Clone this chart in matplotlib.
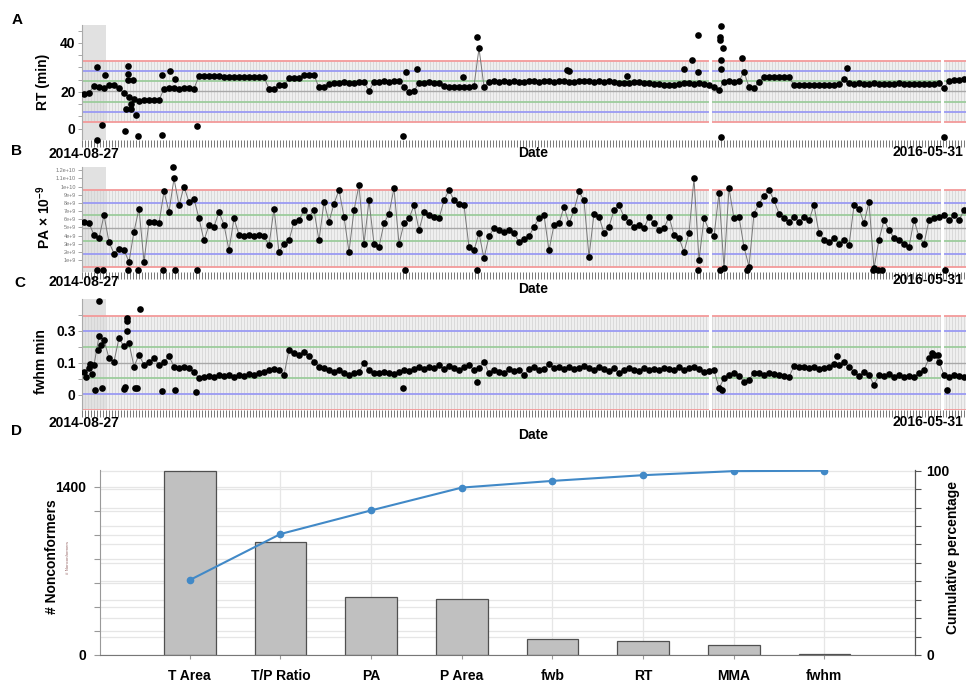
import numpy as np
import matplotlib
matplotlib.use("Agg")
import matplotlib.pyplot as plt
from matplotlib.transforms import blended_transform_factory

plt.rcParams['font.family'] = ['Liberation Sans', 'DejaVu Sans']
plt.rcParams['mathtext.fontset'] = 'custom'
plt.rcParams['mathtext.rm'] = 'Liberation Sans:bold'
plt.rcParams['mathtext.bf'] = 'Liberation Sans:bold'
plt.rcParams['mathtext.default'] = 'bf'

W, H = 966, 690

# ---------------- data ----------------
rt_values = [
    19.3, 19.6, 22.6, 22.0, 21.8, 23.0, 22.7, 21.6, 19.5, 17.8,
    17.2, 16.5, 16.8, 16.6, 16.7, 16.6, 21.3, 21.5, 21.7, 21.4,
    21.6, 21.5, 21.4, 26.5, 26.6, 26.5, 26.4, 26.5, 26.2, 26.0,
    26.1, 26.0, 26.0, 26.1, 26.0, 26.0, 26.1, 21.2, 21.0, 22.9,
    22.7, 25.5, 25.6, 25.7, 26.9, 27.0, 26.8, 21.9, 22.0, 23.4,
    23.6, 23.8, 23.9, 23.7, 23.8, 24.0, 23.9, 20.5, 24.0, 24.2,
    24.3, 24.1, 24.4, 24.6, 22.0, 20.1, 20.3, 23.8, 23.7, 23.9,
    23.8, 23.6, 22.3, 22.1, 22.2, 22.0, 22.2, 22.1, 22.4, 37.8,
    22.2, 24.1, 24.3, 24.2, 24.4, 24.2, 24.3, 24.1, 24.2, 24.5,
    24.3, 24.2, 24.4, 24.3, 24.2, 24.6, 24.3, 24.1, 24.2, 24.4,
    24.6, 24.3, 24.2, 24.5, 24.1, 24.3, 24.2, 23.8, 23.6, 23.5,
    24.2, 24.0, 23.8, 23.5, 23.3, 23.1, 23.0, 22.9, 23.0, 23.2,
    23.5, 23.8, 23.4, 23.6, 23.2, 23.0, 22.2, 20.8, 24.2, 24.3,
    24.0, 24.4, 28.3, 21.9, 21.6, 24.2, 26.0, 26.1, 26.2, 26.0,
    26.1, 25.9, 22.9, 22.8, 23.0, 22.9, 22.7, 22.8, 22.9, 22.7,
    22.8, 23.1, 25.2, 23.6, 23.4, 23.5, 23.3, 23.4, 23.6, 23.3,
    23.4, 23.2, 23.3, 23.5, 23.3, 23.2, 23.4, 23.3, 23.1, 23.2,
    23.4, 23.6, 21.5, 24.6, 24.8, 24.9, 25.1,
]
rt_out_pos = [2.6, 2.6, 3.6, 4.2, 8.8, 8.8, 8.8, 9.8, 8.4, 9.4, 9.4, 10.4, 8.2, 10.8,
              15.6, 15.6, 17.2, 18.2, 22.6, 63.8, 64.4, 66.6, 75.8, 78.6, 96.6, 97.0,
              108.6, 120.0, 121.6, 122.8, 122.8, 127.2, 127.2, 127.4, 127.4, 127.4,
              127.4, 127.8, 131.6, 152.6, 172.0]
rt_out_vals = [0.4, 30.2, 6.5, 26.9, 30.6, 27.3, 24.9, 24.9, 13.1, 13.1, 15.1, 10.6, 4.1, 2.0,
               2.4, 26.9, 28.6, 25.3, 6.1, 2.2, 28.3, 29.3, 26.0, 42.6, 29.0, 28.4,
               26.7, 29.3, 33.0, 43.3, 28.3, 42.3, 41.2, 47.0, 33.0, 29.3,
               1.8, 38.1, 33.8, 29.7, 1.8]

pa_values = [
    5.7, 5.5, 4.1, 3.7, 6.5, 3.2, 1.8, 2.4, 2.2, 0.8,
    4.5, 7.3, 0.8, 5.7, 5.7, 5.5, 9.4, 6.9, 11.0, 7.7,
    10.0, 8.1, 8.5, 6.1, 3.4, 5.3, 5.1, 6.9, 5.3, 2.2,
    6.1, 4.1, 3.9, 4.1, 3.9, 4.1, 3.9, 2.8, 7.3, 2.0,
    3.0, 3.4, 5.7, 5.9, 7.1, 6.3, 7.1, 3.4, 8.1, 5.7,
    7.9, 9.6, 6.3, 2.0, 7.1, 10.2, 3.0, 8.3, 3.0, 2.6,
    5.5, 6.7, 9.8, 3.0, 5.5, 6.1, 7.7, 4.7, 6.9, 6.5,
    6.3, 6.1, 8.3, 9.6, 8.3, 7.9, 7.7, 2.6, 2.2, 4.3,
    1.2, 3.9, 4.9, 4.7, 4.5, 4.7, 4.3, 3.2, 3.6, 3.9,
    5.1, 6.1, 6.5, 2.2, 5.3, 5.5, 7.5, 5.5, 7.1, 9.4,
    8.3, 1.4, 6.7, 6.3, 4.3, 5.1, 7.1, 7.7, 6.3, 5.7,
    5.1, 5.3, 4.9, 6.3, 5.5, 4.7, 4.9, 6.3, 4.1, 3.7,
    2.0, 4.3, 11.0, 1.0, 6.1, 4.7, 3.9, 9.2, 0.0, 9.8,
    6.1, 6.3, 2.6, 0.2, 6.7, 7.9, 8.9, 9.6, 8.3, 6.7,
    6.1, 5.7, 6.3, 5.7, 6.3, 5.9, 7.7, 4.3, 3.5, 3.2,
    3.7, 3.0, 3.5, 2.8, 7.7, 7.3, 5.5, 8.1, 0.0, 3.5,
    5.9, 4.7, 3.7, 3.5, 3.0, 2.6, 5.9, 3.9, 3.0, 5.9,
    6.1, 6.3, 6.5, 5.9, 6.5, 5.9, 7.1,
]
pa_out_pos = [2.6, 3.8, 8.8, 10.8, 15.8, 18.2, 22.6, 64.2, 78.6, 122.8, 127.2, 132.6,
              157.8, 158.8, 159.6, 172.2, 17.8]
pa_out_vals = [-0.25, -0.25, -0.25, -0.25, -0.25, -0.25, -0.25, -0.25, -0.25, -0.25,
               -0.25, -0.25, -0.25, -0.25, -0.25, -0.25, 12.4]

fwhm_values = [
    0.044, 0.065, 0.086, 0.265, 0.244, 0.128, 0.107, 0.254, 0.202, 0.223,
    0.076, 0.149, 0.086, 0.107, 0.128, 0.086, 0.107, 0.139, 0.076, 0.065,
    0.076, 0.065, 0.044, 0.002, 0.013, 0.017, 0.009, 0.023, 0.017, 0.023,
    0.013, 0.023, 0.017, 0.030, 0.023, 0.034, 0.044, 0.055, 0.059, 0.055,
    0.023, 0.181, 0.160, 0.149, 0.170, 0.139, 0.107, 0.076, 0.065, 0.055,
    0.044, 0.055, 0.034, 0.023, 0.038, 0.044, 0.097, 0.055, 0.038, 0.034,
    0.044, 0.034, 0.030, 0.044, 0.055, 0.051, 0.059, 0.076, 0.059, 0.072,
    0.065, 0.086, 0.059, 0.080, 0.065, 0.055, 0.072, 0.086, 0.055, 0.065,
    0.107, 0.034, 0.055, 0.044, 0.038, 0.059, 0.051, 0.055, 0.023, 0.059,
    0.072, 0.055, 0.059, 0.093, 0.065, 0.076, 0.059, 0.072, 0.059, 0.065,
    0.080, 0.065, 0.055, 0.076, 0.059, 0.051, 0.065, 0.038, 0.055, 0.065,
    0.055, 0.051, 0.065, 0.055, 0.059, 0.055, 0.065, 0.059, 0.055, 0.072,
    0.055, 0.065, 0.076, 0.059, 0.044, 0.051, 0.055, -0.060, 0.002, 0.023,
    0.034, 0.017, -0.019, -0.008, 0.038, 0.034, 0.023, 0.038, 0.030, 0.023,
    0.017, 0.009, 0.080, 0.076, 0.072, 0.065, 0.072, 0.059, 0.065, 0.076,
    0.093, 0.086, 0.107, 0.072, 0.044, 0.017, 0.044, 0.023, -0.040, 0.023,
    0.017, 0.030, 0.013, 0.023, 0.009, 0.017, 0.013, 0.034, 0.055, 0.128,
    0.149, 0.107, 0.023, 0.009, 0.023, 0.017, 0.009,
]
fwhm_out_pos = [2.2, 3.6, 8.0, 8.2, 10.2, 10.6, 15.6, 18.2, 22.4, 3.0, 11.2, 8.6, 8.6, 8.6,
                63.8, 78.6, 150.6, 172.6, 127.6, 169.6, 170.8, 0.4, 1.2, 1.6, 2.8, 3.4]
fwhm_out_vals = [-0.071, -0.06, -0.067, -0.05, -0.06, -0.06, -0.075, -0.071, -0.081, 0.49,
                 0.44, 0.38, 0.36, 0.30, -0.06, -0.02, 0.14, -0.07, -0.07, 0.16, 0.15,
                 0.01, 0.09, 0.03, 0.18, 0.21]

categories = ['T Area', 'T/P Ratio', 'PA', 'P Area', 'fwb', 'RT', 'MMA', 'fwhm']
nonconformers = [1533, 942, 483, 467, 137, 117, 83, 8]

# ---------------- figure ----------------
fig = plt.figure(figsize=(W / 100, H / 100), dpi=100)


def rect(left, top, right, bottom):
    return [left / W, 1 - bottom / H, (right - left) / W, (bottom - top) / H]


def ftext(px, py, s, **kw):
    fig.text(px / W, 1 - py / H, s, **kw)


def ts_panel(r, vals, opos, ovals, center, sigma, ylim, yticks, ylabels, tick_fs,
             tick_bold, tick_color):
    ax = fig.add_axes(r)
    n = len(vals)
    x = np.arange(n)
    xlo, xhi = -0.4, n - 1 + 0.4
    ax.set_xlim(xlo, xhi)
    ax.set_ylim(*ylim)
    lo, hi = center - 3 * sigma, center + 3 * sigma
    ax.axhspan(lo, hi, color='#efefef', zorder=0, lw=0)
    ax.axvspan(xlo, 4.4, color='#e1e1e1', zorder=0.2, lw=0)
    ax.vlines(np.arange(xlo, xhi, 0.6), lo, hi, color='#cfcfcf', lw=0.45, zorder=0.5)
    for k, c in [(3, '#f39a9a'), (2, '#9a9af3'), (1, '#9ccc9c')]:
        ax.axhline(center + k * sigma, color=c, lw=1.3, zorder=1)
        ax.axhline(center - k * sigma, color=c, lw=1.3, zorder=1)
    ax.axhline(center, color='#a8a8a8', lw=1.0, zorder=1)
    for g in (125.2, 171.6):
        ax.axvline(g, color='white', lw=2.2, zorder=1.5)
    ax.plot(x, vals, color='#777777', lw=0.7, zorder=2)
    ax.plot(x, vals, 'o', color='black', ms=4.8, mew=0, zorder=3)
    ax.plot(opos, ovals, 'o', color='black', ms=4.8, mew=0, zorder=3, clip_on=False)
    for s in ('top', 'right', 'bottom'):
        ax.spines[s].set_visible(False)
    ax.spines['left'].set_color('#aaaaaa')
    ax.set_xticks(np.arange(xlo, xhi, 0.6))
    ax.set_xticklabels([])
    ax.tick_params(axis='x', length=5, width=0.5, color='#444444')
    ax.set_yticks(yticks)
    ax.set_yticklabels(ylabels, fontsize=tick_fs,
                       fontweight='bold' if tick_bold else 'normal', color=tick_color)
    ax.tick_params(axis='y', length=3, width=0.6, color='#999999', pad=1.5)
    return ax


# Panel A
ts_panel(rect(82, 25, 966, 140), rt_values, rt_out_pos, rt_out_vals,
         20.2, 4.13, (0.4, 47.3), [5, 10, 15, 20, 25, 30, 35, 40, 45],
         ['0', '', '', '20', '', '', '', '40', ''], 10, True, 'black')

# Panel B
pa_ticks = list(range(1, 13))


def e_label(v):
    val = v * 1e9
    ex = int(np.floor(np.log10(val)))
    mant = round(val / 10 ** ex, 1)
    return '%ge+%d' % (mant, ex)


ts_panel(rect(82, 167, 966, 272), pa_values, pa_out_pos, pa_out_vals,
         4.9, 1.57, (-0.46, 12.4), pa_ticks, [e_label(v) for v in pa_ticks],
         4, False, '#777777')

# Panel C
ts_panel(rect(82, 299, 966, 410), fwhm_values, fwhm_out_pos, fwhm_out_vals,
         0.1, 0.0985, (-0.197, 0.5), [-0.1, 0.0, 0.1, 0.2, 0.3, 0.4],
         ['0', '', '0.1', '', '0.3', ''], 10, True, 'black')

# labels for time-series panels
lab = dict(fontsize=10, fontweight='bold', ha='center', va='center')
ftext(17, 20, 'A', fontsize=11, fontweight='bold', ha='center', va='center')
ftext(17, 151, 'B', fontsize=11, fontweight='bold', ha='center', va='center')
ftext(20, 283, 'C', fontsize=11, fontweight='bold', ha='center', va='center')
ftext(16, 431, 'D', fontsize=11, fontweight='bold', ha='center', va='center')

ftext(43, 82, 'RT (min)', rotation=90, **lab)
ftext(44, 217, r'PA $\times$ 10$^{-9}$', rotation=90, **lab)
ftext(41, 362, 'fwhm min', rotation=90, **lab)

for yb, yd, ye in [(154, 153, 152), (282, 289, 280), (423, 435, 422)]:
    ftext(84, yb, '2014-08-27', **lab)
    ftext(533, yd, 'Date', **lab)
    ftext(963, ye, '2016-05-31', fontsize=10, fontweight='bold', ha='right', va='center')

# Panel D
axd = fig.add_axes(rect(100, 470, 915, 655))
xc = np.arange(len(categories))
axd.set_xlim(-0.99, len(categories) - 1 + 1.0)
axd.set_ylim(0, 1540)
axr = axd.twinx()
axr.set_ylim(0, 100.4)

cum = np.cumsum(nonconformers) / np.sum(nonconformers) * 100

left_ticks = np.arange(0, 1401, 200)
right_ticks = np.arange(0, 101, 10)
axd.hlines(left_ticks, 0, 1, transform=axd.get_yaxis_transform(),
           color='#e6e6e6', lw=0.9, zorder=0)
axd.hlines(right_ticks, 0, 1,
           transform=blended_transform_factory(axd.transAxes, axr.transData),
           color='#e6e6e6', lw=0.9, zorder=0)
axd.vlines(xc, 0, 1, transform=axd.get_xaxis_transform(), color='#e6e6e6', lw=0.9, zorder=0)

axd.bar(xc, nonconformers, width=0.57, color='#c0c0c0', edgecolor='#505050', lw=0.9, zorder=2)
axr.plot(xc, cum, color='#4189c7', lw=1.5, marker='o', ms=4.5, zorder=3)

axd.set_yticks(left_ticks)
axd.set_yticklabels(['0', '', '', '', '', '', '', '1400'], fontsize=10, fontweight='bold')
axr.set_yticks(right_ticks)
axr.set_yticklabels(['0'] + [''] * 9 + ['100'], fontsize=10, fontweight='bold')
axd.set_xticks(xc)
axd.set_xticklabels(categories, fontsize=10, fontweight='bold')
axd.tick_params(axis='x', length=3, color='#999999', pad=7)
axd.tick_params(axis='y', length=4, color='#999999', pad=6)
axr.tick_params(axis='y', length=4, color='#555555', pad=4)
for a in (axd, axr):
    a.spines['top'].set_visible(False)
axd.spines['left'].set_color('#999999')
axd.spines['bottom'].set_color('#777777')
axr.spines['left'].set_visible(False)
axr.spines['bottom'].set_visible(False)
axr.spines['right'].set_color('#555555')

ftext(52, 557, '# Nonconformers', rotation=90, **lab)
ftext(68, 557, '# Nonconformers', rotation=90, fontsize=3.2, color='#9a6a6a',
      ha='center', va='center')
ftext(953, 557, 'Cumulative percentage', rotation=90, **lab)

fig.savefig('out.png', dpi=100)
